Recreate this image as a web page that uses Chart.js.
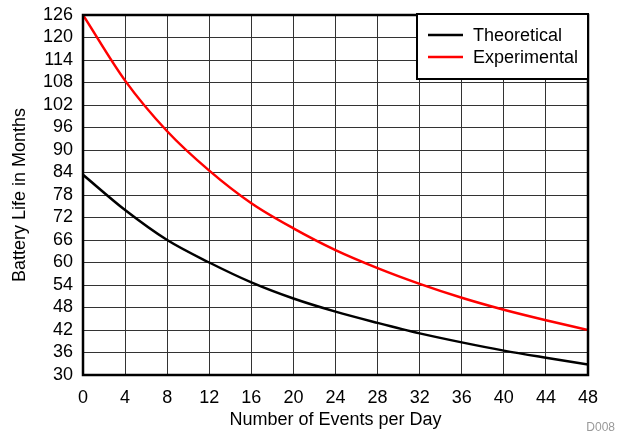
<!DOCTYPE html>
<html lang="en">
<head>
  <meta charset="UTF-8">
  <title>Battery Life vs Events per Day</title>
  <style>
    * { margin: 0; padding: 0; box-sizing: border-box; }
    body { background: #ffffff; width: 619px; height: 435px; overflow: hidden; font-family: 'Liberation Sans', Arial, sans-serif; }
    .wrap { position: relative; width: 619px; height: 435px; }
    .tag { position: absolute; right: 4px; bottom: 1px; font-size: 12px; color: #999; }
  </style>
</head>
<body>
  <div class="wrap">
    <canvas id="batteryChart" width="619" height="435"></canvas>
    <div class="tag">D008</div>
  </div>

  <script src="https://cdn.jsdelivr.net/npm/chart.js"></script>
  <script>
    const events = [0, 4, 8, 12, 16, 20, 24, 28, 32, 36, 40, 44, 48];
    const theoretical = [83.4, 74, 66, 60, 54.7, 50.4, 46.9, 43.9, 41.1, 38.7, 36.5, 34.6, 32.8];
    const experimental = [126, 108.5, 95, 84.5, 75.8, 69.1, 63.3, 58.5, 54.3, 50.6, 47.4, 44.6, 42];
    const seriesNames = ['Theoretical', 'Experimental'];
    const seriesColors = ['#000000', '#ff0000'];

    const font = "'Liberation Sans', Arial, sans-serif";

    // frame round the plot + legend box in the top right corner
    const framePlugin = {
      id: 'frame',
      afterDraw(chart) {
        const { ctx, chartArea: a } = chart;
        ctx.save();
        ctx.strokeStyle = '#000';
        ctx.lineWidth = 2.5;
        ctx.strokeRect(a.left, a.top, a.right - a.left, a.bottom - a.top);

        const bx = 417, by = 14, bw = a.right - 417, bh = 65;
        ctx.fillStyle = '#fff';
        ctx.fillRect(bx, by, bw, bh);
        ctx.lineWidth = 2;
        ctx.strokeRect(bx, by, bw, bh);
        ctx.font = '18px ' + font;
        ctx.textBaseline = 'middle';
        seriesNames.forEach((name, i) => {
          const y = 35 + i * 22;
          ctx.strokeStyle = seriesColors[i];
          ctx.lineWidth = 2.5;
          ctx.beginPath();
          ctx.moveTo(428, y);
          ctx.lineTo(463, y);
          ctx.stroke();
          ctx.fillStyle = '#000';
          ctx.fillText(name, 473, y + 1);
        });
        ctx.restore();
      }
    };

    new Chart(document.getElementById('batteryChart'), {
      type: 'line',
      data: {
        datasets: [
          {
            label: seriesNames[0],
            data: events.map((x, i) => ({ x, y: theoretical[i] })),
            borderColor: seriesColors[0],
            borderWidth: 2.5,
            pointRadius: 0,
            cubicInterpolationMode: 'monotone'
          },
          {
            label: seriesNames[1],
            data: events.map((x, i) => ({ x, y: experimental[i] })),
            borderColor: seriesColors[1],
            borderWidth: 2.5,
            pointRadius: 0,
            cubicInterpolationMode: 'monotone'
          }
        ]
      },
      options: {
        responsive: false,
        animation: false,
        layout: { padding: { top: 15, right: 31, left: 0, bottom: 0 } },
        plugins: { legend: { display: false }, tooltip: { enabled: false } },
        scales: {
          x: {
            type: 'linear',
            min: 0,
            max: 48,
            afterFit(scale) { scale.height = 60; scale.paddingLeft = 0; scale.paddingRight = 0; },
            ticks: { stepSize: 4, autoSkip: false, maxRotation: 0, color: '#000', padding: 12, font: { size: 18, family: font } },
            grid: { color: '#333', lineWidth: 1, drawTicks: false },
            border: { display: false },
            title: { display: true, text: 'Number of Events per Day', color: '#000', font: { size: 18, family: font }, padding: { top: 0, bottom: 4 } }
          },
          y: {
            min: 30,
            max: 126,
            afterFit(scale) { scale.width = 83; scale.paddingTop = 0; scale.paddingBottom = 0; },
            ticks: { stepSize: 6, autoSkip: false, color: '#000', padding: 10, font: { size: 18, family: font } },
            grid: { color: '#333', lineWidth: 1, drawTicks: false },
            border: { display: false },
            title: { display: true, text: 'Battery Life in Months', color: '#000', font: { size: 18, family: font }, padding: { top: 9, bottom: 0 } }
          }
        }
      },
      plugins: [framePlugin]
    });
  </script>
</body>
</html>
